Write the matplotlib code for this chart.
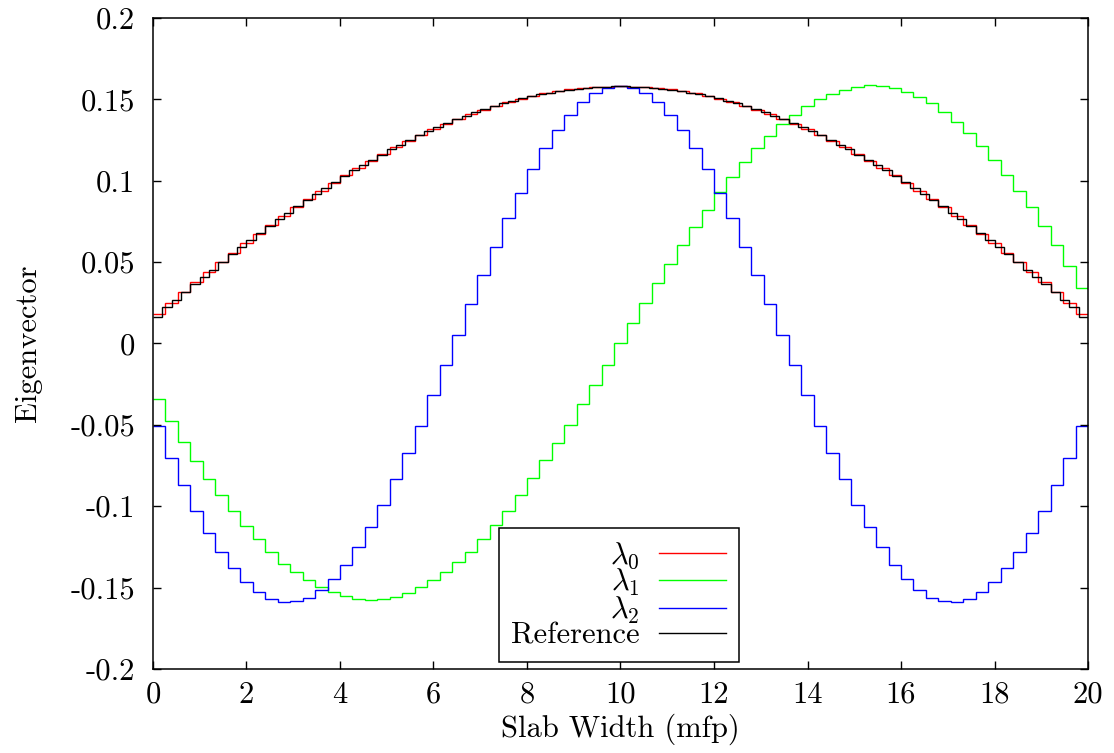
import matplotlib
matplotlib.use("Agg")
import matplotlib.pyplot as plt
import numpy as np

# eigenvector values per cell
lambda0 = [0.0182, 0.0248, 0.0318, 0.0379, 0.0441, 0.0502, 0.0558, 0.0617, 0.0674, 0.0727,
           0.0783, 0.0837, 0.0888, 0.0938, 0.0988, 0.1037, 0.1080, 0.1124, 0.1166, 0.1207,
           0.1246, 0.1283, 0.1318, 0.1351, 0.1382, 0.1410, 0.1437, 0.1462, 0.1484, 0.1504,
           0.1522, 0.1537, 0.1550, 0.1561, 0.1569, 0.1575, 0.1579, 0.1580, 0.1579, 0.1575,
           0.1569, 0.1561, 0.1550, 0.1537, 0.1522, 0.1504, 0.1484, 0.1462, 0.1437, 0.1410,
           0.1382, 0.1351, 0.1318, 0.1283, 0.1246, 0.1207, 0.1166, 0.1124, 0.1080, 0.1037,
           0.0988, 0.0938, 0.0888, 0.0837, 0.0783, 0.0727, 0.0674, 0.0617, 0.0558, 0.0502,
           0.0441, 0.0379, 0.0318, 0.0248, 0.0182]

lambda1 = [-0.0341, -0.0478, -0.0603, -0.0720, -0.0833, -0.0933, -0.1028, -0.1124, -0.1202, -0.1284,
           -0.1352, -0.1406, -0.1454, -0.1497, -0.1530, -0.1553, -0.1568, -0.1575, -0.1570, -0.1560,
           -0.1535, -0.1499, -0.1454, -0.1403, -0.1345, -0.1280, -0.1202, -0.1114, -0.1028, -0.0929,
           -0.0829, -0.0716, -0.0612, -0.0499, -0.0372, -0.0255, -0.0130, 0.0000, 0.0125, 0.0250,
           0.0370, 0.0490, 0.0606, 0.0714, 0.0822, 0.0929, 0.1021, 0.1114, 0.1200, 0.1274,
           0.1349, 0.1406, 0.1458, 0.1503, 0.1533, 0.1560, 0.1575, 0.1589, 0.1585, 0.1568,
           0.1548, 0.1513, 0.1476, 0.1421, 0.1359, 0.1292, 0.1216, 0.1130, 0.1036, 0.0939,
           0.0837, 0.0724, 0.0605, 0.0478, 0.0343]

lambda2 = [-0.0505, -0.0704, -0.0870, -0.1028, -0.1165, -0.1284, -0.1382, -0.1468, -0.1529, -0.1570,
           -0.1587, -0.1583, -0.1562, -0.1515, -0.1447, -0.1359, -0.1253, -0.1130, -0.0991, -0.0833,
           -0.0673, -0.0505, -0.0317, -0.0132, 0.0054, 0.0241, 0.0419, 0.0595, 0.0769, 0.0925,
           0.1073, 0.1200, 0.1312, 0.1406, 0.1482, 0.1540, 0.1570, 0.1585, 0.1570, 0.1540,
           0.1482, 0.1406, 0.1312, 0.1200, 0.1073, 0.0925, 0.0769, 0.0595, 0.0419, 0.0241,
           0.0054, -0.0132, -0.0317, -0.0505, -0.0673, -0.0833, -0.0991, -0.1130, -0.1253, -0.1359,
           -0.1447, -0.1515, -0.1562, -0.1583, -0.1587, -0.1570, -0.1529, -0.1468, -0.1382, -0.1284,
           -0.1165, -0.1028, -0.0870, -0.0704, -0.0505]

reference = [0.0164, 0.0223, 0.0268, 0.0316, 0.0367, 0.0410, 0.0453, 0.0500, 0.0548, 0.0593,
             0.0637, 0.0680, 0.0722, 0.0763, 0.0803, 0.0843, 0.0881, 0.0919, 0.0957, 0.0993,
             0.1028, 0.1063, 0.1097, 0.1129, 0.1161, 0.1192, 0.1222, 0.1251, 0.1278, 0.1305,
             0.1330, 0.1355, 0.1378, 0.1400, 0.1421, 0.1440, 0.1459, 0.1476, 0.1492, 0.1506,
             0.1520, 0.1532, 0.1542, 0.1552, 0.1560, 0.1566, 0.1572, 0.1576, 0.1579, 0.1580,
             0.1580, 0.1579, 0.1576, 0.1572, 0.1566, 0.1560, 0.1552, 0.1542, 0.1532, 0.1520,
             0.1506, 0.1492, 0.1476, 0.1459, 0.1440, 0.1421, 0.1400, 0.1378, 0.1355, 0.1330,
             0.1305, 0.1278, 0.1251, 0.1222, 0.1192, 0.1161, 0.1129, 0.1097, 0.1063, 0.1028,
             0.0993, 0.0957, 0.0919, 0.0881, 0.0843, 0.0803, 0.0763, 0.0722, 0.0680, 0.0637,
             0.0593, 0.0548, 0.0500, 0.0453, 0.0410, 0.0367, 0.0316, 0.0268, 0.0223, 0.0164]

slab_width = 20.0
xticks = [0, 2, 4, 6, 8, 10, 12, 14, 16, 18, 20]
yticks = [-0.2, -0.15, -0.1, -0.05, 0, 0.05, 0.1, 0.15, 0.2]
ytick_labels = ["-0.2", "-0.15", "-0.1", "-0.05", "0", "0.05", "0.1", "0.15", "0.2"]


def main():
    plt.rcParams["font.family"] = ["cmr10", "DejaVu Serif"]
    plt.rcParams["mathtext.fontset"] = "cm"
    plt.rcParams["axes.unicode_minus"] = False

    fig = plt.figure(figsize=(11.14, 7.53), dpi=100)
    ax = fig.add_axes([0.1373, 0.1116, 0.8394, 0.8645])

    series = [(lambda0, "#ff0000", r"$\lambda_0$"),
              (lambda1, "#00ff00", r"$\lambda_1$"),
              (lambda2, "#0000ff", r"$\lambda_2$"),
              (reference, "#000000", "Reference")]
    for vals, color, label in series:
        edges = np.linspace(0, slab_width, len(vals) + 1)
        ax.stairs(vals, edges, color=color, linewidth=1.0, label=label, baseline=None)

    ax.set_xlim(0, 20)
    ax.set_ylim(-0.2, 0.2)
    ax.set_xticks(xticks)
    ax.set_xticklabels([str(t) for t in xticks])
    ax.set_yticks(yticks)
    ax.set_yticklabels(ytick_labels)
    ax.tick_params(direction="in", length=6, width=1.0, top=True, right=True,
                   labelsize=22)
    ax.tick_params(axis="x", pad=9)
    ax.tick_params(axis="y", pad=13)
    for s in ax.spines.values():
        s.set_linewidth(1.1)

    ax.set_xlabel("Slab Width (mfp)", fontsize=22, labelpad=3)
    ax.set_ylabel("Eigenvector", fontsize=22, labelpad=20)

    leg = ax.legend(loc="lower center", bbox_to_anchor=(0.498, 0.011), markerfirst=False,
                    fancybox=False, framealpha=1, edgecolor="black", fontsize=22,
                    handlelength=2.2, labelspacing=-0.12, borderaxespad=0,
                    handletextpad=0.65, borderpad=0.4)
    leg.get_frame().set_linewidth(1.1)

    fig.savefig("out.png", dpi=100)


if __name__ == "__main__":
    main()
